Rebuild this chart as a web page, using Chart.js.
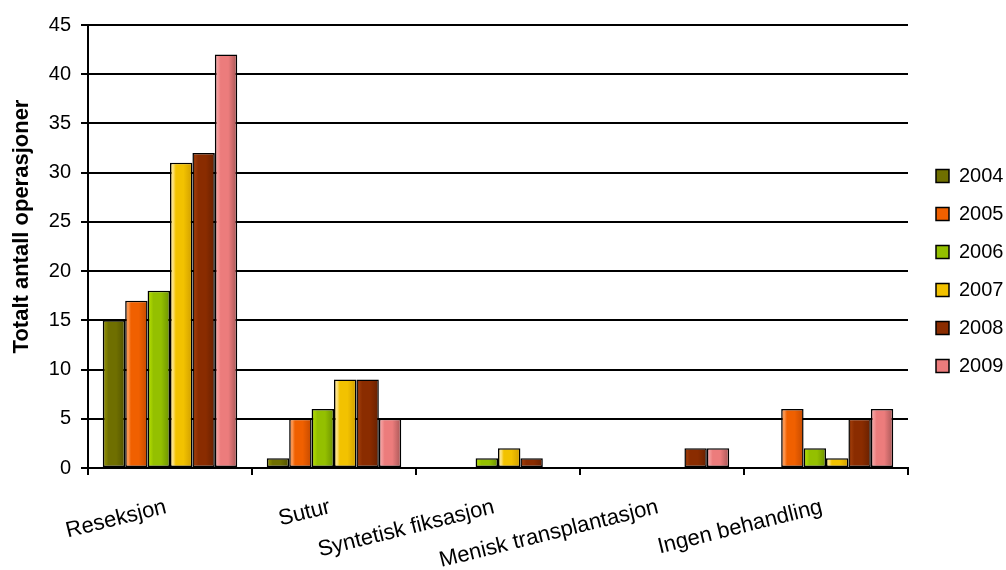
<!DOCTYPE html>
<html>
<head>
<meta charset="utf-8">
<title>Totalt antall operasjoner</title>
<script src="https://cdn.jsdelivr.net/npm/chart.js@4/dist/chart.umd.min.js"></script>
<style>
  html, body { margin: 0; padding: 0; background: #ffffff; }
  #chart { display: block; }
</style>
</head>
<body>
<canvas id="chart" width="1006" height="570"></canvas>
<script>
// Treatment categories along the x axis
const categories = ['Reseksjon', 'Sutur', 'Syntetisk fiksasjon', 'Menisk transplantasjon', 'Ingen behandling'];

// One series per year
const years = ['2004', '2005', '2006', '2007', '2008', '2009'];
const ops2004 = [15, 1, 0, 0, 0];
const ops2005 = [17, 5, 0, 0, 6];
const ops2006 = [18, 6, 1, 0, 2];
const ops2007 = [31, 9, 2, 0, 1];
const ops2008 = [32, 9, 1, 2, 5];
const ops2009 = [42, 5, 0, 2, 6];

// Value axis ticks
const yTicks = [0, 5, 10, 15, 20, 25, 30, 35, 40, 45];
const yTitle = 'Totalt antall operasjoner';

// Fill colours per year: base, highlight and shaded edge
const palette = [
  { base: '#6f6f00', light: '#868600', dark: '#535300' },
  { base: '#f06000', light: '#ff9e5a', dark: '#c44a00' },
  { base: '#94c000', light: '#aad400', dark: '#6c9200' },
  { base: '#f2c200', light: '#ffe890', dark: '#d09e00' },
  { base: '#8a2c00', light: '#9c3a08', dark: '#682000' },
  { base: '#ec7c7c', light: '#f49c9c', dark: '#a65656' }
];

const seriesValues = [ops2004, ops2005, ops2006, ops2007, ops2008, ops2009];

const FONT = "'Liberation Sans', Arial, sans-serif";

// Horizontal cylinder-like shading across a span
function shade(ctx, left, width, col) {
  const g = ctx.createLinearGradient(left, 0, left + width, 0);
  g.addColorStop(0, col.dark);
  g.addColorStop(0.12, col.light);
  g.addColorStop(0.26, col.base);
  g.addColorStop(0.6, col.base);
  g.addColorStop(1, col.dark);
  return g;
}

// Applies the shading to every bar just before it is painted
const barShading = {
  id: 'barShading',
  beforeDatasetDraw(chart, args) {
    const col = palette[args.index];
    args.meta.data.forEach(bar => {
      const p = bar.getProps(['x', 'width'], true);
      bar.options.backgroundColor = shade(chart.ctx, p.x - p.width / 2, p.width, col);
    });
  }
};

// Legend sits in its own column right of the plot
const LEGEND_BOX_X = 936;
const LEGEND_FIRST_Y = 176;
// Axis title is lifted slightly above the middle of the value axis
const TITLE_LIFT = 20;

const layoutTweaks = {
  id: 'layoutTweaks',
  afterInit(chart) {
    const lg = chart.legend;
    const fit = lg.fit.bind(lg);
    lg.fit = function () {
      fit();
      this.width = 98;
    };
  },
  afterUpdate(chart) {
    const s = chart.scales.y;
    if (s && !s.__liftedTitle) {
      const drawTitle = s.drawTitle.bind(s);
      s.drawTitle = function () {
        this.ctx.save();
        this.ctx.translate(0, -TITLE_LIFT);
        drawTitle();
        this.ctx.restore();
      };
      s.__liftedTitle = true;
    }
  },
  afterLayout(chart) {
    const lg = chart.legend;
    const pad = lg.options.labels.padding;
    const itemH = Math.max(lg.options.labels.font.size, lg.options.labels.boxHeight);
    const colH = lg.columnSizes[0].height;
    const cur = (lg.top + pad + lg.bottom - colH) / 2;
    const dy = (LEGEND_FIRST_Y - itemH / 2) - cur;
    lg.top += dy; lg.bottom += dy;
    const dx = LEGEND_BOX_X - pad - lg.left;
    lg.left += dx; lg.right += dx;
    lg.legendItems.forEach(item => {
      item.fillStyle = shade(chart.ctx, LEGEND_BOX_X, lg.options.labels.boxWidth, palette[item.datasetIndex]);
    });
  }
};

const datasets = years.map((year, i) => ({
  label: year,
  data: seriesValues[i],
  backgroundColor: () => palette[i].base,
  borderColor: '#000000',
  borderWidth: 1.5,
  borderSkipped: false,
  categoryPercentage: 0.82,
  barPercentage: 1.0
}));

new Chart(document.getElementById('chart'), {
  type: 'bar',
  data: { labels: categories, datasets },
  plugins: [barShading, layoutTweaks],
  options: {
    responsive: false,
    devicePixelRatio: 1,
    animation: false,
    layout: { padding: { top: 25, left: 0, right: 0, bottom: 0 } },
    plugins: {
      tooltip: { enabled: false },
      legend: {
        position: 'right',
        align: 'center',
        labels: {
          color: '#000000',
          font: { family: FONT, size: 20 },
          boxWidth: 13,
          boxHeight: 13,
          padding: 18,
          generateLabels(chart) {
            return chart.data.datasets.map((ds, i) => ({
              text: ds.label,
              fillStyle: palette[i].base,
              strokeStyle: '#000000',
              lineWidth: 1.5,
              fontColor: '#000000',
              hidden: !chart.isDatasetVisible(i),
              datasetIndex: i
            }));
          }
        }
      }
    },
    scales: {
      x: {
        grid: {
          display: true,
          offset: true,
          drawOnChartArea: false,
          drawTicks: true,
          tickLength: 7,
          color: '#000000',
          lineWidth: 2
        },
        border: { display: true, color: '#000000', width: 2 },
        ticks: {
          color: '#000000',
          font: { family: FONT, size: 22 },
          minRotation: 14,
          maxRotation: 14,
          autoSkip: false,
          padding: 19,
          labelOffset: -4
        },
        afterFit(scale) { scale.height = 102; }
      },
      y: {
        min: 0,
        max: 45,
        grid: {
          color: '#000000',
          lineWidth: 2,
          drawTicks: true,
          tickLength: 7
        },
        border: { display: true, color: '#000000', width: 2 },
        ticks: {
          color: '#000000',
          font: { family: FONT, size: 20 },
          padding: 10
        },
        afterBuildTicks(scale) {
          scale.ticks = yTicks.map(v => ({ value: v }));
        },
        title: {
          display: true,
          text: yTitle,
          color: '#000000',
          font: { family: FONT, size: 22, weight: 'bold' },
          padding: { top: 9, bottom: 0 }
        },
        afterFit(scale) { scale.width = 88; }
      }
    }
  }
});
</script>
</body>
</html>
